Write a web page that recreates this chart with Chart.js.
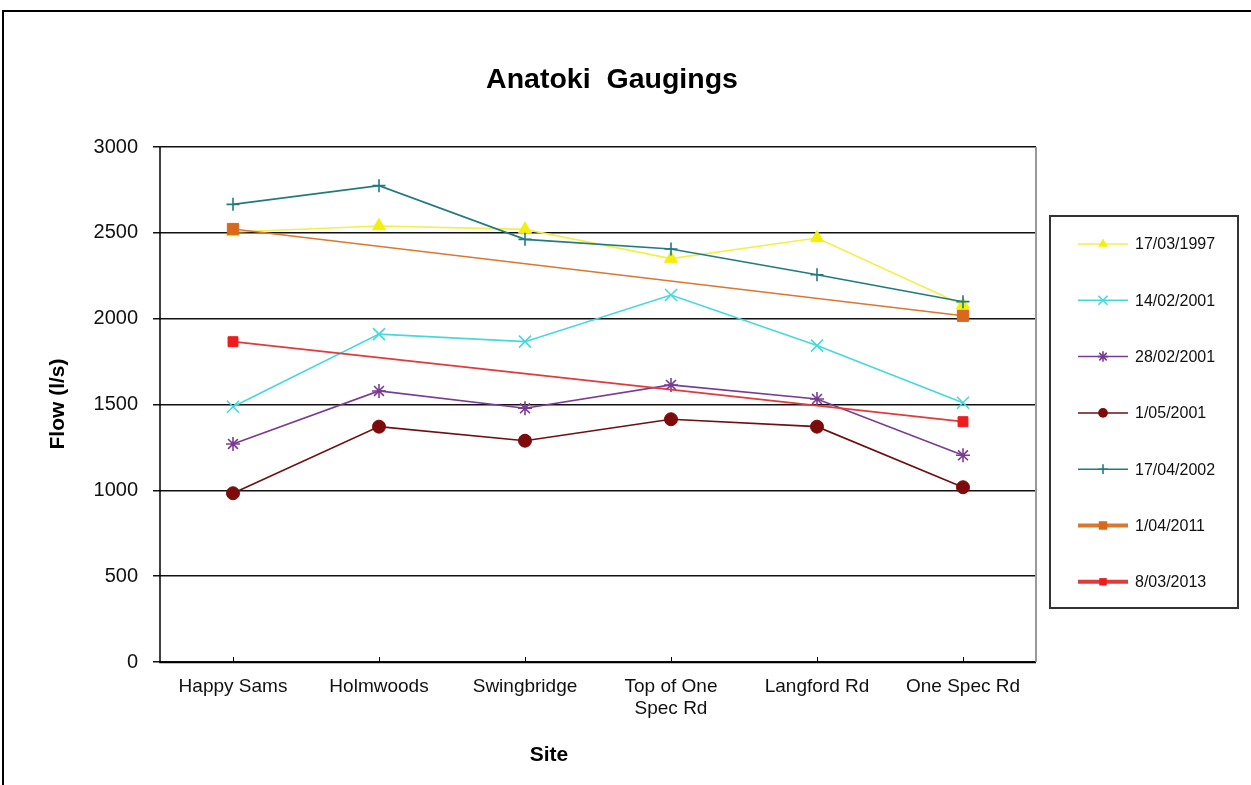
<!DOCTYPE html>
<html>
<head>
<meta charset="utf-8">
<script src="https://cdn.jsdelivr.net/npm/chart.js@4.4.0/dist/chart.umd.min.js"></script>
<style>
  html, body { margin: 0; padding: 0; background: #fff; }
  #wrap { width: 1251px; height: 785px; position: relative; }
</style>
</head>
<body>
<div id="wrap"><canvas id="c" width="1251" height="785"></canvas></div>
<script>
// ---- data ----
const chartTitle = 'Anatoki  Gaugings';
const xTitle = 'Site';
const yTitle = 'Flow (l/s)';
const sites = ['Happy Sams', 'Holmwoods', 'Swingbridge', ['Top of One', 'Spec Rd'], 'Langford Rd', 'One Spec Rd'];
const yTicks = [0, 500, 1000, 1500, 2000, 2500, 3000];
const seriesNames = ['17/03/1997', '14/02/2001', '28/02/2001', '1/05/2001', '17/04/2002', '1/04/2011', '8/03/2013'];
const s1997_03_17 = [2505, 2540, 2520, 2350, 2470, 2080];
const s2001_02_14 = [1487, 1910, 1866, 2138, 1843, 1510];
const s2001_02_28 = [1270, 1579, 1478, 1614, 1532, 1204];
const s2001_05_01 = [983, 1371, 1289, 1414, 1371, 1018];
const s2002_04_17 = [2666, 2775, 2462, 2406, 2256, 2099];
const s2011_04_01 = [2522, null, null, null, null, 2017];
const s2013_03_08 = [1866, null, null, null, null, 1400];

// ---- styles ----
const seriesValues = [s1997_03_17, s2001_02_14, s2001_02_28, s2001_05_01, s2002_04_17, s2011_04_01, s2013_03_08];
const lineColors = ['#f2f046', '#45d8dc', '#7a3c93', '#6e0f12', '#217a82', '#d9782f', '#e23a3a'];
const markColors = ['#f4ee10', '#45d8dc', '#7a3c93', '#7e0b0b', '#217a82', '#d8681c', '#ee1c1c'];
const markStyles = ['triangle', 'crossRot', 'star', 'circle', 'cross', 'rect', 'rect'];
const markRadius = [7.5, 8.5, 7, 6.5, 6.5, 8, 7];
const legendLineW = [1.5, 1.5, 1.5, 1.5, 1.5, 4, 4];

const FONT = 'Liberation Sans, Arial, sans-serif';

const datasets = seriesValues.map((vals, i) => ({
  label: seriesNames[i],
  data: vals,
  borderColor: lineColors[i],
  backgroundColor: markColors[i],
  pointBorderColor: markColors[i],
  pointBackgroundColor: markColors[i],
  pointStyle: markStyles[i],
  pointRadius: markRadius[i],
  pointBorderWidth: (markStyles[i] === 'crossRot' || markStyles[i] === 'cross' || markStyles[i] === 'star') ? 1.6 : 1,
  borderWidth: 1.6,
  tension: 0,
  spanGaps: true,
  order: seriesValues.length - i
}));

function drawMarker(ctx, style, x, y, r, color) {
  ctx.save();
  ctx.fillStyle = color; ctx.strokeStyle = color; ctx.lineWidth = 1.6;
  ctx.beginPath();
  if (style === 'circle') { ctx.arc(x, y, r, 0, Math.PI * 2); ctx.fill(); }
  else if (style === 'rect') { const s = Math.SQRT1_2 * r; ctx.rect(x - s, y - s, 2 * s, 2 * s); ctx.fill(); }
  else if (style === 'triangle') {
    ctx.moveTo(x, y - r); ctx.lineTo(x + r * 0.866, y + r * 0.5); ctx.lineTo(x - r * 0.866, y + r * 0.5); ctx.closePath(); ctx.fill();
  } else {
    const d = r * Math.SQRT1_2;
    if (style === 'cross' || style === 'star') { ctx.moveTo(x - r, y); ctx.lineTo(x + r, y); ctx.moveTo(x, y - r); ctx.lineTo(x, y + r); }
    if (style === 'crossRot' || style === 'star') { ctx.moveTo(x - d, y - d); ctx.lineTo(x + d, y + d); ctx.moveTo(x - d, y + d); ctx.lineTo(x + d, y - d); }
    ctx.stroke();
  }
  ctx.restore();
}

const decor = {
  id: 'decor',
  beforeDraw(chart) {
    const ctx = chart.ctx;
    ctx.save();
    ctx.fillStyle = '#fff';
    ctx.fillRect(0, 0, chart.width, chart.height);
    ctx.restore();
  },
  afterDraw(chart) {
    const ctx = chart.ctx;
    const a = chart.chartArea;
    const xs = chart.scales.x;
    ctx.save();
    // outer frame
    ctx.strokeStyle = '#000'; ctx.lineWidth = 2;
    ctx.strokeRect(3, 11, 1300, 900);
    // plot area right border
    ctx.strokeStyle = '#9a9a9a'; ctx.lineWidth = 2;
    ctx.beginPath(); ctx.moveTo(a.right, a.top); ctx.lineTo(a.right, a.bottom); ctx.stroke();
    // axes
    ctx.strokeStyle = '#000'; ctx.lineWidth = 1.5;
    ctx.beginPath(); ctx.moveTo(a.left, a.top); ctx.lineTo(a.left, a.bottom + 0.5); ctx.lineTo(a.right, a.bottom + 0.5); ctx.stroke();
    // x inner ticks
    ctx.lineWidth = 1;
    ctx.beginPath();
    for (let i = 0; i < sites.length; i++) {
      const px = Math.round(xs.getPixelForTick(i)) + 0.5;
      ctx.moveTo(px, a.bottom); ctx.lineTo(px, a.bottom - 5);
    }
    ctx.stroke();
    // titles
    ctx.fillStyle = '#000';
    ctx.textAlign = 'center';
    ctx.textBaseline = 'alphabetic';
    ctx.font = 'bold 28.5px ' + FONT;
    ctx.fillText(chartTitle, 612, 88);
    ctx.font = 'bold 21px ' + FONT;
    ctx.textBaseline = 'middle';
    ctx.fillText(xTitle, 549, 755);
    ctx.save();
    ctx.translate(58, 404);
    ctx.rotate(-Math.PI / 2);
    ctx.fillText(yTitle, 0, 0);
    ctx.restore();
    // legend
    const lx = 1050, ly = 216, lw = 188, lh = 392;
    ctx.fillStyle = '#fff';
    ctx.fillRect(lx, ly, lw, lh);
    ctx.strokeStyle = '#333'; ctx.lineWidth = 2;
    ctx.strokeRect(lx, ly, lw, lh);
    ctx.font = '16px ' + FONT;
    ctx.textAlign = 'left';
    ctx.textBaseline = 'middle';
    for (let i = 0; i < seriesNames.length; i++) {
      const yy = 244 + i * 56.3;
      ctx.strokeStyle = lineColors[i]; ctx.lineWidth = legendLineW[i];
      ctx.beginPath(); ctx.moveTo(1078, yy); ctx.lineTo(1128, yy); ctx.stroke();
      drawMarker(ctx, markStyles[i], 1103, yy, markRadius[i] * 0.75, markColors[i]);
      ctx.fillStyle = '#111';
      ctx.fillText(seriesNames[i], 1135, yy + 1);
    }
    ctx.restore();
  }
};

new Chart(document.getElementById('c'), {
  type: 'line',
  data: { labels: sites, datasets },
  options: {
    responsive: false,
    animation: false,
    layout: { padding: { top: 147, right: 1251 - 1036, bottom: 0, left: 0 } },
    plugins: { legend: { display: false }, title: { display: false }, tooltip: { enabled: false } },
    scales: {
      x: {
        type: 'category',
        offset: true,
        grid: { display: false, drawTicks: false },
        border: { display: false },
        ticks: { color: '#111', font: { family: FONT, size: 19 }, padding: 13, maxRotation: 0, autoSkip: false },
        afterFit(s) { s.height = 785 - 662; }
      },
      y: {
        min: 0, max: 3000,
        afterBuildTicks(s) { s.ticks = yTicks.map(v => ({ value: v })); },
        grid: { color: '#111', lineWidth: 1.5, tickLength: 7, drawTicks: true },
        border: { display: false },
        ticks: { color: '#111', font: { family: FONT, size: 20 }, padding: 15, callback: (v) => String(v) },
        afterFit(s) { s.width = 160; }
      }
    }
  },
  plugins: [decor]
});
</script>
</body>
</html>
